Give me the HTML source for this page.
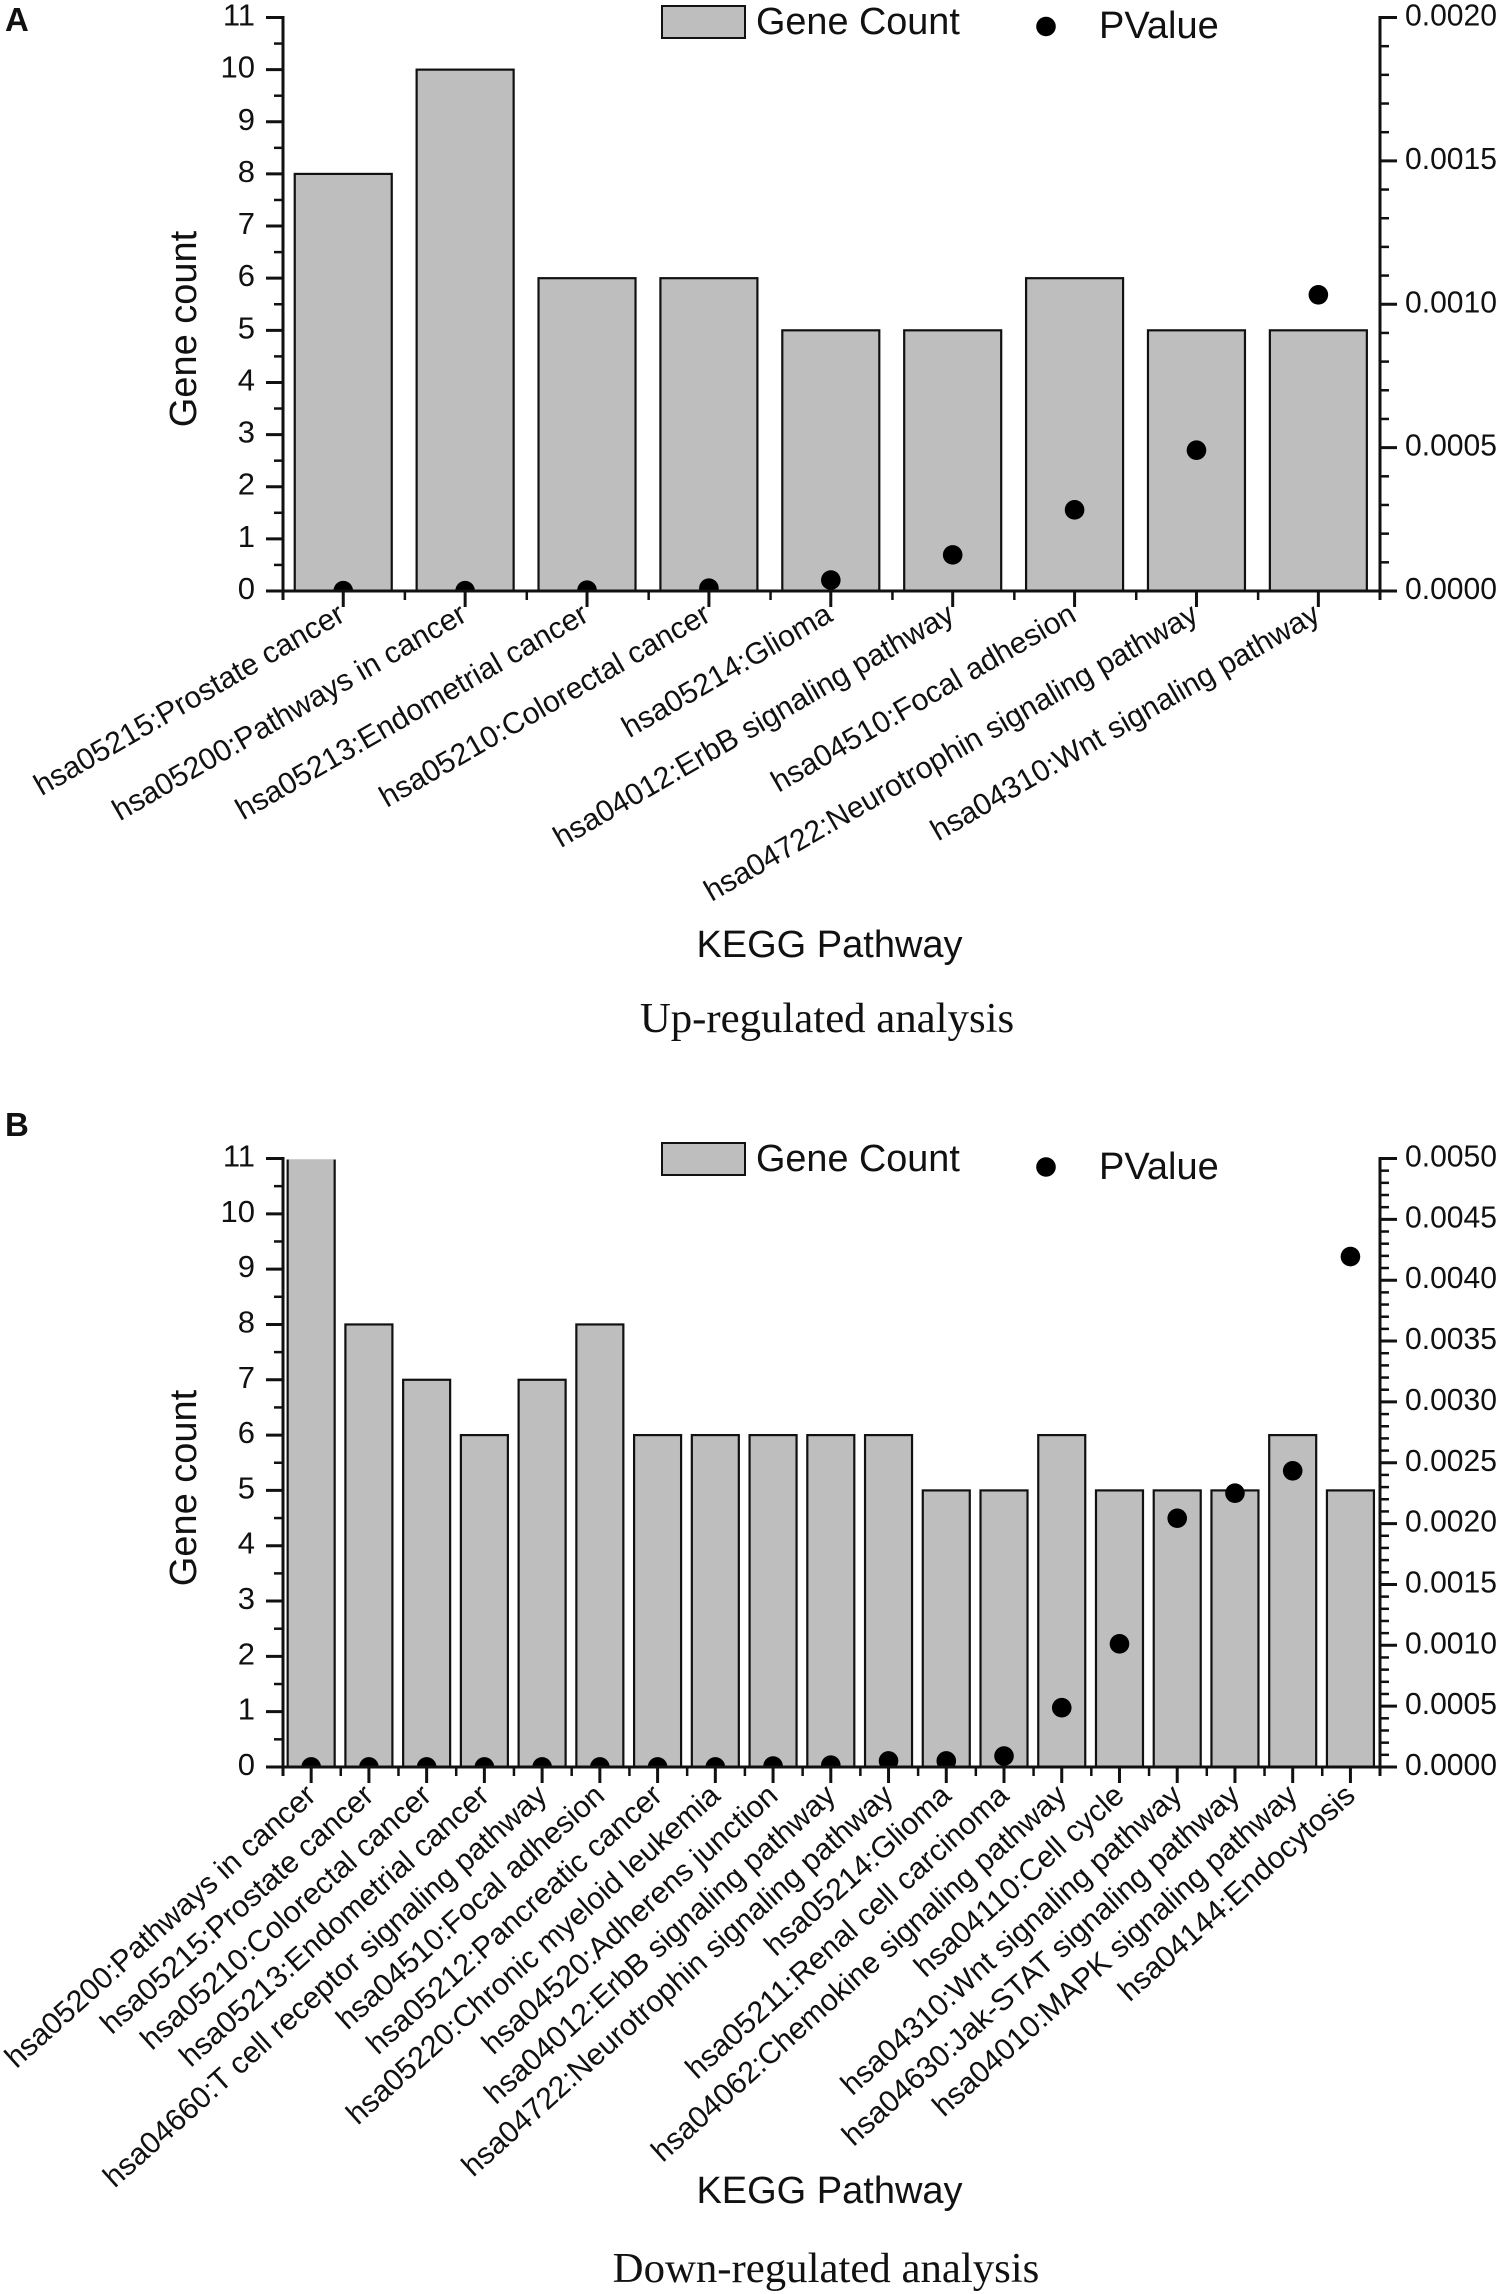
<!DOCTYPE html>
<html lang="en">
<head>
<meta charset="utf-8">
<title>KEGG pathway analysis</title>
<style>
html,body{margin:0;padding:0;background:#fff;}
svg{display:block;}
text{font-family:"Liberation Sans",Arial,sans-serif;fill:#111;}
.serif{font-family:"Liberation Serif","Times New Roman",serif;}
</style>
</head>
<body>
<svg id="figure" xmlns="http://www.w3.org/2000/svg" width="1500" height="2294" viewBox="0 0 1500 2294">
  <rect x="0" y="0" width="1500" height="2294" fill="#ffffff"/>
  <text x="5" y="31" font-size="33" font-weight="bold" fill="#000">A</text>
  <text x="5" y="1136" font-size="33" font-weight="bold" fill="#000">B</text>

  <g id="panel-a"></g>
  <g id="panel-b"></g>

  <rect x="662" y="6" width="83" height="32" fill="#bebebe" stroke="#111" stroke-width="2"/>
  <text x="756" y="34" font-size="37.8">Gene Count</text>
  <circle cx="1046" cy="26.5" r="9.8" fill="#000"/>
  <text x="1099" y="38" font-size="38">PValue</text>
  <text x="829.5" y="957" font-size="38" text-anchor="middle">KEGG Pathway</text>
  <text class="serif" x="827" y="1032" font-size="42.8" text-anchor="middle">Up-regulated analysis</text>

  <rect x="662" y="1143" width="83" height="32" fill="#bebebe" stroke="#111" stroke-width="2"/>
  <text x="756" y="1171" font-size="37.8">Gene Count</text>
  <circle cx="1046" cy="1167" r="9.8" fill="#000"/>
  <text x="1099" y="1179" font-size="38">PValue</text>
  <text x="829.5" y="2203" font-size="38" text-anchor="middle">KEGG Pathway</text>
  <text class="serif" x="826" y="2282" font-size="42.8" text-anchor="middle">Down-regulated analysis</text>
</svg>

<script>
const categoriesA = [
  "hsa05215:Prostate cancer","hsa05200:Pathways in cancer","hsa05213:Endometrial cancer",
  "hsa05210:Colorectal cancer","hsa05214:Glioma","hsa04012:ErbB signaling pathway",
  "hsa04510:Focal adhesion","hsa04722:Neurotrophin signaling pathway","hsa04310:Wnt signaling pathway"
];
const geneCountsA = [8,10,6,6,5,5,6,5,5];
const pValuesA = [0.000001,0.000001,0.000003,0.00001,0.000038,0.000126,0.000283,0.000491,0.001033];
const rightTickLabelsA = ["0.0000","0.0005","0.0010","0.0015","0.0020"];

const categoriesB = [
  "hsa05200:Pathways in cancer","hsa05215:Prostate cancer","hsa05210:Colorectal cancer",
  "hsa05213:Endometrial cancer","hsa04660:T cell receptor signaling pathway","hsa04510:Focal adhesion",
  "hsa05212:Pancreatic cancer","hsa05220:Chronic myeloid leukemia","hsa04520:Adherens junction",
  "hsa04012:ErbB signaling pathway","hsa04722:Neurotrophin signaling pathway","hsa05214:Glioma",
  "hsa05211:Renal cell carcinoma","hsa04062:Chemokine signaling pathway","hsa04110:Cell cycle",
  "hsa04310:Wnt signaling pathway","hsa04630:Jak-STAT signaling pathway","hsa04010:MAPK signaling pathway",
  "hsa04144:Endocytosis"
];
const geneCountsB = [11,8,7,6,7,8,6,6,6,6,6,5,5,6,5,5,5,6,5];
const pValuesB = [0.000001,0.000001,0.000001,0.000001,0.000001,0.000001,0.000001,0.000001,0.000008,0.000015,0.00005,0.00005,0.00009,0.000487,0.001012,0.002044,0.00225,0.002434,0.004194];
const rightTickLabelsB = ["0.0000","0.0005","0.0010","0.0015","0.0020","0.0025","0.0030","0.0035","0.0040","0.0045","0.0050"];

const leftTickLabels = ["0","1","2","3","4","5","6","7","8","9","10","11"];

const NS = "http://www.w3.org/2000/svg";

function make(parent, tag, attrs, txt) {
  const el = document.createElementNS(NS, tag);
  for (const k in attrs) el.setAttribute(k, attrs[k]);
  if (txt !== undefined) el.textContent = txt;
  parent.appendChild(el);
  return el;
}

function drawPanel(root, id, cfg, categories, counts, pvals, rightLabels) {
  const leftMax = parseFloat(leftTickLabels[leftTickLabels.length - 1]);
  const rightMax = parseFloat(rightLabels[rightLabels.length - 1]);
  const yLeft = v => cfg.y0 - (v / leftMax) * (cfg.y0 - cfg.yTop);
  const yRight = v => cfg.y0 - (v / rightMax) * (cfg.y0 - cfg.yTop);
  const band = (cfg.xR - cfg.xL) / categories.length;
  const xC = i => cfg.xL + band * (i + 0.5) - 0.7;
  const clipId = "clip-" + id;
  const cp = make(root, "clipPath", {id: clipId});
  make(cp, "rect", {x: cfg.xL, y: cfg.yTop + 1, width: cfg.xR - cfg.xL, height: cfg.y0 - cfg.yTop - 1});
  const plot = make(root, "g", {"clip-path": "url(#" + clipId + ")"});
  
  

  counts.forEach((c, i) => {
    const r = make(plot, "rect", {
      x: xC(i) - cfg.barW / 2, y: yLeft(c), width: cfg.barW, height: cfg.y0 - yLeft(c),
      fill: "#bebebe", stroke: "#111", "stroke-width": 2.2
    });
    
    
  });
  pvals.forEach((p, i) => {
    const d = make(plot, "circle", {cx: xC(i), cy: yRight(p), r: 9.8, fill: "#000"});
    
    
  });

  const axes = make(root, "g", {stroke: "#111", "stroke-width": 3, fill: "none"});
  
  
  make(axes, "line", {x1: cfg.xL, y1: cfg.yTop - 1.5, x2: cfg.xL, y2: cfg.y0 + 9});
  make(axes, "line", {x1: cfg.xR, y1: cfg.yTop - 1.5, x2: cfg.xR, y2: cfg.y0 + 9});
  make(axes, "line", {x1: cfg.xL - 17, y1: cfg.y0, x2: cfg.xR + 17, y2: cfg.y0});

  leftTickLabels.forEach((lab, i) => {
    const v = parseFloat(lab), y = yLeft(v);
    make(axes, "line", {x1: cfg.xL - 17, y1: y, x2: cfg.xL, y2: y});
    if (i < leftTickLabels.length - 1) {
      const ym = yLeft(v + 0.5);
      make(axes, "line", {x1: cfg.xL - 9, y1: ym, x2: cfg.xL, y2: ym, "stroke-width": 2.5});
    }
    const t = make(root, "text", {x: 255, y: y + 8, "font-size": 31, "text-anchor": "end"}, lab);
    
    
  });

  rightLabels.forEach((lab, i) => {
    const v = parseFloat(lab), y = yRight(v);
    make(axes, "line", {x1: cfg.xR, y1: y, x2: cfg.xR + 17, y2: y});
    if (i < rightLabels.length - 1) {
      const step = parseFloat(rightLabels[i + 1]) - v;
      for (let m = 1; m < 5; m++) {
        const ym = yRight(v + step * m / 5);
        make(axes, "line", {x1: cfg.xR, y1: ym, x2: cfg.xR + 9, y2: ym, "stroke-width": 2.5});
      }
    }
    const t = make(root, "text", {x: 1405, y: y + 8, "font-size": 31, textLength: 92, lengthAdjust: "spacingAndGlyphs"}, lab);
    
    
  });

  categories.forEach((c, i) => {
    make(axes, "line", {x1: xC(i), y1: cfg.y0, x2: xC(i), y2: cfg.y0 + 16});
    if (i > 0) make(axes, "line", {x1: cfg.xL + band * i, y1: cfg.y0, x2: cfg.xL + band * i, y2: cfg.y0 + 9, "stroke-width": 2.5});
    const ax = xC(i) + cfg.labelDx, ay = cfg.y0 + cfg.labelDy;
    const t = make(root, "text", {
      x: ax, y: ay, "font-size": cfg.labelSize, "text-anchor": "end",
      transform: "rotate(" + (-cfg.angle) + " " + ax + " " + ay + ")"
    }, c);
    
    
  });

  const ty = make(root, "text", {
    x: 196, y: cfg.titleY, "font-size": 38, "text-anchor": "middle",
    transform: "rotate(-90 196 " + cfg.titleY + ")"
  }, "Gene count");
  
  
}

drawPanel(document.getElementById("panel-a"), "a",
  {xL: 283, xR: 1380, y0: 591, yTop: 17.5, barW: 97, labelDx: 3.5, labelDy: 29, labelSize: 30.2, angle: 30, titleY: 329},
  categoriesA, geneCountsA, pValuesA, rightTickLabelsA);

drawPanel(document.getElementById("panel-b"), "b",
  {xL: 283, xR: 1380, y0: 1767, yTop: 1158.5, barW: 47, labelDx: 6.5, labelDy: 31, labelSize: 30.4, angle: 42, titleY: 1488},
  categoriesB, geneCountsB, pValuesB, rightTickLabelsB);
</script>
</body>
</html>
